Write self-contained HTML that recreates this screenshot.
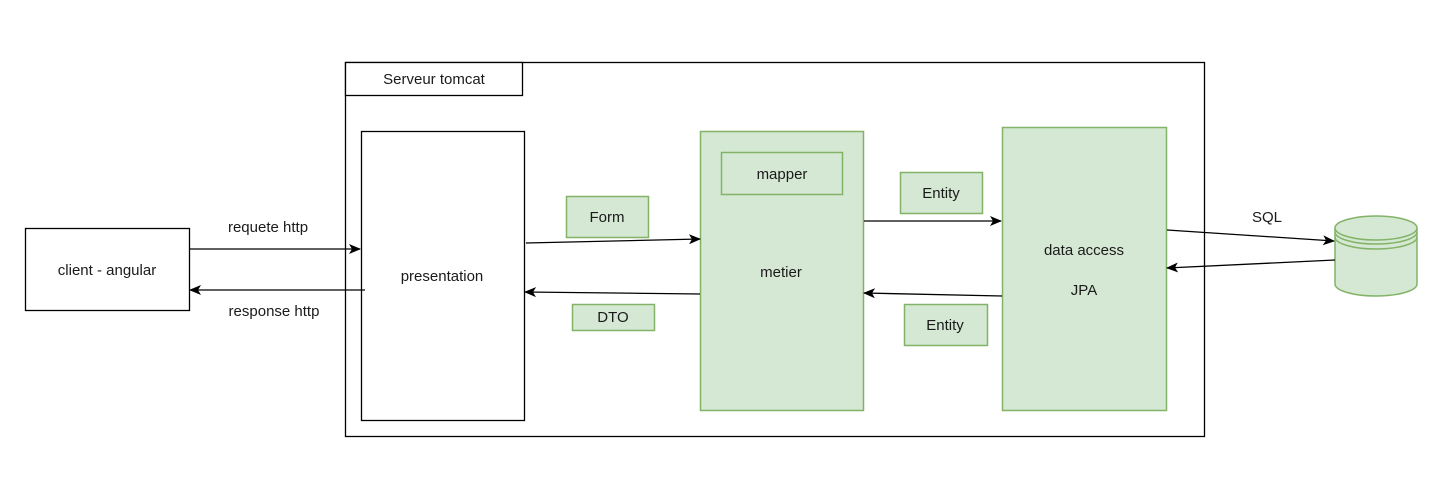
<!DOCTYPE html>
<html><head><meta charset="utf-8"><style>
html,body{margin:0;padding:0;background:#fff;width:1440px;height:486px;overflow:hidden}
text{font-family:"Liberation Sans",Arial,sans-serif;font-size:15px;fill:#1a1a1a}
</style></head><body>
<svg width="1440" height="486" viewBox="0 0 1440 486" xmlns="http://www.w3.org/2000/svg">
<defs>
<marker id="a" markerWidth="12" markerHeight="10" refX="11" refY="5" orient="auto" markerUnits="userSpaceOnUse">
<path d="M0,0 L12,5 L0,10 L3,5 Z" fill="#000"/>
</marker>
</defs>
<g stroke="#000" stroke-width="1.3" fill="#fff">
<rect x="345.5" y="62.5" width="859" height="374"/>
<rect x="345.5" y="62.5" width="177" height="33"/>
<rect x="361.5" y="131.5" width="163" height="289"/>
<rect x="25.5" y="228.5" width="164" height="82"/>
</g>
<g stroke="#82b366" stroke-width="1.5" fill="#d5e8d4">
<rect x="700.5" y="131.5" width="163" height="279"/>
<rect x="721.5" y="152.5" width="121" height="42"/>
<rect x="1002.5" y="127.5" width="164" height="283"/>
<rect x="566.5" y="196.5" width="82" height="41"/>
<rect x="572.5" y="304.5" width="82" height="26"/>
<rect x="900.5" y="172.5" width="82" height="41"/>
<rect x="904.5" y="304.5" width="83" height="41"/>
<path d="M1335,228 L1335,284 A41,12 0 0 0 1417,284 L1417,228"/>
<ellipse cx="1376" cy="228" rx="41" ry="12"/>
<path d="M1335,232 A41,12 0 0 0 1417,232 M1335,237 A41,12 0 0 0 1417,237" fill="none"/>
</g>
<g stroke="#000" stroke-width="1.3" fill="none" marker-end="url(#a)">
<line x1="189" y1="249" x2="360" y2="249"/>
<line x1="365" y1="290" x2="190" y2="290"/>
<line x1="526" y1="243" x2="700" y2="239"/>
<line x1="700" y1="294" x2="525" y2="292"/>
<line x1="864" y1="221" x2="1001" y2="221"/>
<line x1="1002" y1="296" x2="864" y2="293"/>
<line x1="1167" y1="230" x2="1334" y2="241"/>
<line x1="1335" y1="260" x2="1167" y2="268"/>
</g>
<g text-anchor="middle">
<text x="434" y="84">Serveur tomcat</text>
<text x="107" y="275">client - angular</text>
<text x="268" y="232">requete http</text>
<text x="274" y="316">response http</text>
<text x="442" y="281">presentation</text>
<text x="607" y="222">Form</text>
<text x="613" y="322">DTO</text>
<text x="782" y="179">mapper</text>
<text x="781" y="277">metier</text>
<text x="941" y="198">Entity</text>
<text x="945" y="330">Entity</text>
<text x="1084" y="255">data access</text>
<text x="1084" y="295">JPA</text>
<text x="1267" y="222">SQL</text>
</g>
</svg>
</body></html>
